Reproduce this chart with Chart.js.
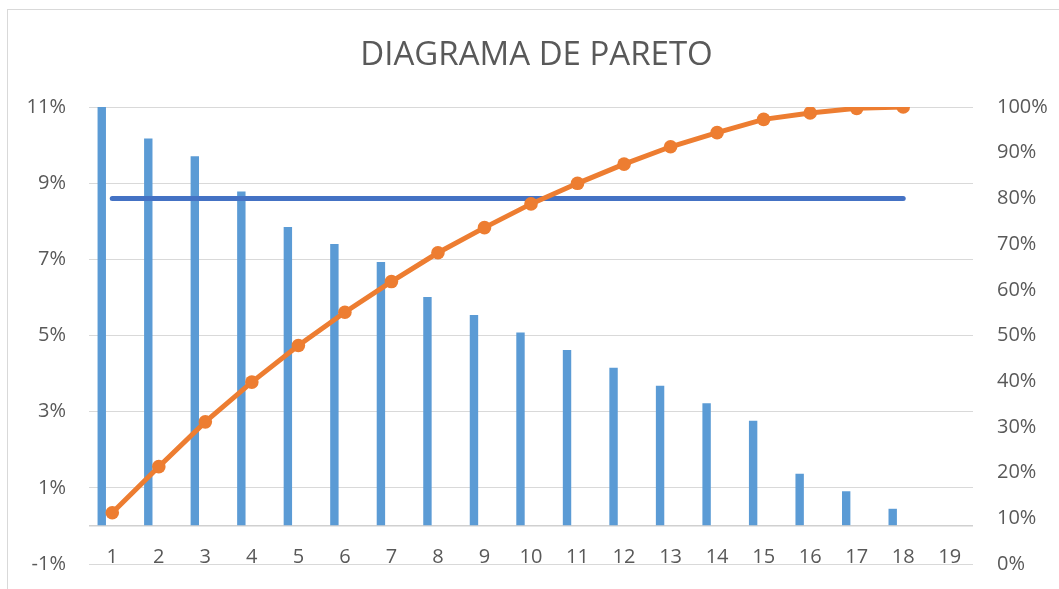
<!DOCTYPE html>
<html lang="es">
<head>
<meta charset="utf-8">
<title>Diagrama de Pareto</title>
<script src="https://cdn.jsdelivr.net/npm/chart.js@4/dist/chart.umd.min.js"></script>
<style>
  html, body { margin: 0; padding: 0; background: #fff; overflow: hidden; }
  #wrap { position: relative; width: 1059px; height: 589px; }
  /* chart frame, only top and left edges are visible in the crop */
  #frame {
    position: absolute; left: 7px; top: 9px;
    width: 1100px; height: 640px;
    border: 1px solid #D9D9D9; box-sizing: border-box;
  }
  #pareto { position: absolute; left: 0; top: 0; }
</style>
</head>
<body>
<div id="wrap">
  <div id="frame"></div>
  <canvas id="pareto" width="1059" height="589"></canvas>
</div>
<script>
// ==========================================
// Data
// ==========================================

const categorias = ['1', '2', '3', '4', '5', '6', '7', '8', '9', '10',
  '11', '12', '13', '14', '15', '16', '17', '18', '19'];

// individual share of each cause, left axis (%)
const porcentaje = [11.1, 10.17, 9.71, 8.78, 7.85, 7.40, 6.93, 6.01, 5.54, 5.08,
  4.62, 4.15, 3.68, 3.22, 2.76, 1.37, 0.91, 0.45, null];

// cumulative share, right axis (%)
const acumulado = [11.2, 21.3, 31.1, 39.8, 47.8, 55.1, 61.8, 68.1, 73.6, 78.8,
  83.3, 87.5, 91.3, 94.4, 97.3, 98.7, 99.7, 100, null];

// 80 % reference line, right axis
const limite80 = [80, 80, 80, 80, 80, 80, 80, 80, 80, 80,
  80, 80, 80, 80, 80, 80, 80, 80, null];

// second (empty) column series of the original sheet - keeps the bars shifted left
const serieVacia = [];

const ticksIzq = [-1, 1, 3, 5, 7, 9, 11];
const ejeCero = 0;
const ticksDer = [0, 10, 20, 30, 40, 50, 60, 70, 80, 90, 100];

// ==========================================
// Styles
// ==========================================

const FONT = "'Open Sans', 'Noto Sans', sans-serif";
const TEXT_COLOR = '#595959';
const GRID_COLOR = '#D9D9D9';

const tickFont = { family: FONT, size: 20 };

/**
 * Fix an axis width and drop the extra top/bottom room Chart.js
 * reserves for the end labels (tick padding gets added to it otherwise)
 */
function fixedWidth(width) {
  return function (scale) {
    scale.width = width;
    scale.paddingTop = 0;
    scale.paddingBottom = 0;
  };
}

// the title in the sheet sits a little right of the canvas centre
const titleShift = {
  id: 'titleShift',
  afterLayout(chart) {
    if (chart.titleBlock) chart.titleBlock.left += 14;
  }
};

// ==========================================
// Chart
// ==========================================

const ctx = document.getElementById('pareto').getContext('2d');

new Chart(ctx, {
  data: {
    labels: categorias,
    datasets: [
      {
        type: 'line',
        label: '% acumulado',
        data: acumulado,
        yAxisID: 'yDer',
        borderColor: '#ED7D31',
        backgroundColor: '#ED7D31',
        borderWidth: 5,
        pointRadius: 6.8,
        pointBorderWidth: 0,
        pointBackgroundColor: '#ED7D31',
        tension: 0,
        order: 0
      },
      {
        type: 'line',
        label: '80%',
        data: limite80,
        yAxisID: 'yDer',
        borderColor: '#4472C4',
        borderWidth: 5,
        borderCapStyle: 'round',
        pointRadius: 0,
        order: 1
      },
      {
        type: 'bar',
        label: '% individual',
        data: porcentaje,
        yAxisID: 'yIzq',
        backgroundColor: '#5B9BD5',
        categoryPercentage: 0.903,
        barPercentage: 0.4,
        order: 2
      },
      {
        type: 'bar',
        label: '',
        data: serieVacia,
        yAxisID: 'yIzq',
        backgroundColor: 'rgba(0,0,0,0)',
        categoryPercentage: 0.903,
        barPercentage: 0.4,
        order: 3
      }
    ]
  },
  options: {
    responsive: false,
    animation: false,
    devicePixelRatio: 1,
    layout: { padding: 0 },
    plugins: {
      legend: { display: false },
      tooltip: { enabled: false },
      title: {
        display: true,
        text: 'DIAGRAMA DE PARETO',
        color: TEXT_COLOR,
        font: { family: FONT, size: 33, weight: 'normal' },
        padding: { top: 36.2, bottom: 31.2 }
      }
    },
    scales: {
      x: {
        type: 'category',
        offset: true,
        grid: { display: false },
        border: { display: false },
        ticks: {
          color: TEXT_COLOR,
          font: tickFont,
          // labels sit inside the plot, just above the -1% gridline
          mirror: true,
          padding: -5,
          maxRotation: 0,
          autoSkip: false
        },
        afterFit(scale) { scale.height = 25; }
      },
      yIzq: {
        position: 'left',
        min: -1,
        max: 11,
        afterBuildTicks(scale) {
          scale.ticks = ticksIzq.concat([ejeCero])
            .sort((a, b) => a - b)
            .map(v => ({ value: v }));
        },
        ticks: {
          color: TEXT_COLOR,
          font: tickFont,
          padding: 23,
          callback: v => (v === ejeCero ? '' : v + '%')
        },
        grid: {
          drawTicks: false,
          color: c => (c.tick && c.tick.value === ejeCero ? '#D0D0D0' : GRID_COLOR),
          lineWidth: c => (c.tick && c.tick.value === ejeCero ? 1.5 : 1)
        },
        border: { display: false },
        afterFit: fixedWidth(89)
      },
      yDer: {
        position: 'right',
        min: 0,
        max: 100,
        afterBuildTicks(scale) {
          scale.ticks = ticksDer.map(v => ({ value: v }));
        },
        ticks: {
          color: TEXT_COLOR,
          font: tickFont,
          padding: 24,
          callback: v => v + '%'
        },
        grid: { display: false, drawTicks: false },
        border: { display: false },
        afterFit: fixedWidth(86)
      }
    }
  },
  plugins: [titleShift]
});
</script>
</body>
</html>
